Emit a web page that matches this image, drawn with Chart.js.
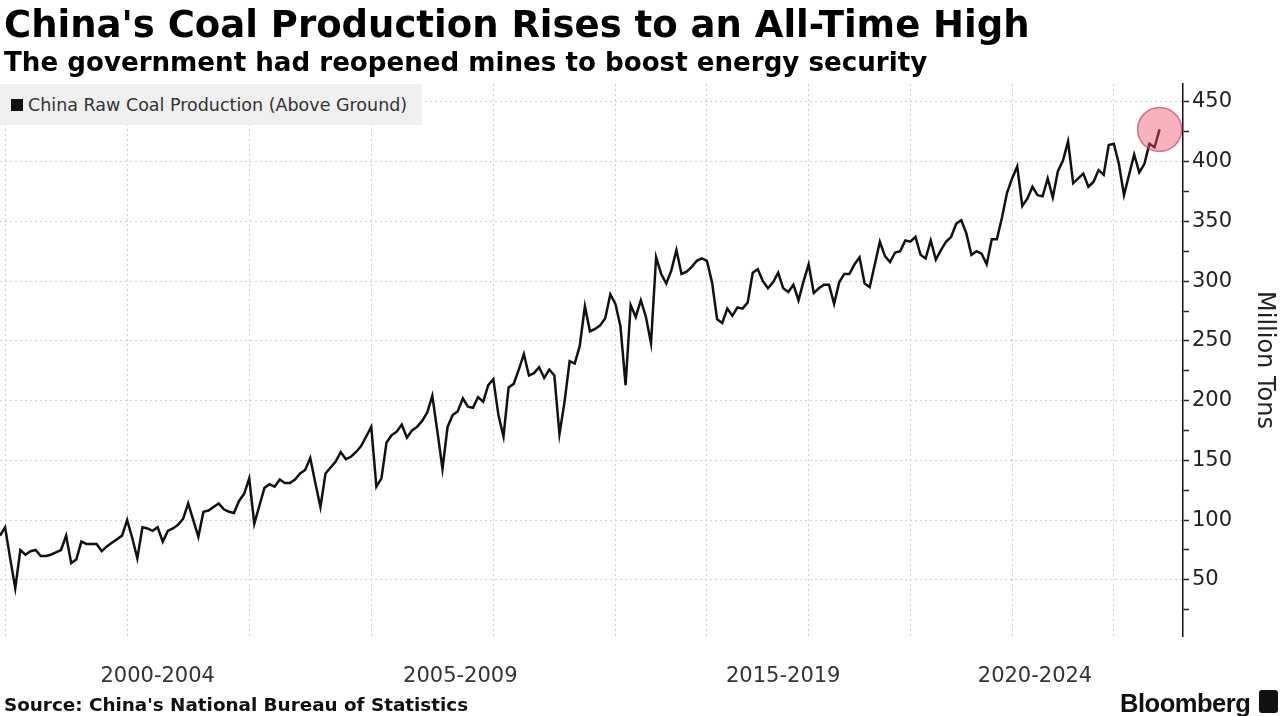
<!DOCTYPE html>
<html>
<head>
<meta charset="utf-8">
<script src="https://cdn.jsdelivr.net/npm/chart.js@4.4.1/dist/chart.umd.min.js"></script>
<style>
  body { margin: 0; background: #fff; width: 1280px; height: 716px; overflow: hidden; position: relative; }
  #chart { position: absolute; left: 0; top: 0; }
  .txt { position: absolute; white-space: nowrap; line-height: 1; color: #000; }
  #title { left: 4px; top: 3px; font: bold 36px "DejaVu Sans", sans-serif; }
  #subtitle { left: 4px; top: 47px; font: bold 26px "DejaVu Sans", sans-serif; }
  #source { left: 4px; top: 694px; font: bold 18px "DejaVu Sans", sans-serif; color: #111; }
  #brand { left: 1120px; top: 689px; font: bold 23px "Liberation Sans", Arial, sans-serif; color: #111; letter-spacing: -0.5px; }
  #logo { position: absolute; left: 1259px; top: 690px; width: 19px; height: 23px; background: #111; border-radius: 3px; }
  #legend { position: absolute; left: 0; top: 84px; width: 422px; height: 41px; background: #efefef;
            display: flex; align-items: center; font: 17.5px "DejaVu Sans", sans-serif; color: #333; }
  #legend span.box { display: inline-block; width: 12px; height: 12px; background: #111; margin: 0 5px 0 11px; }
</style>
</head>
<body>
<canvas id="chart" width="1280" height="716"></canvas>
<div class="txt" id="title">China's Coal Production Rises to an All-Time High</div>
<div class="txt" id="subtitle">The government had reopened mines to boost energy security</div>
<div id="legend"><span class="box"></span><span id="legendText"></span></div>
<div class="txt" id="source">Source: China's National Bureau of Statistics</div>
<div class="txt" id="brand">Bloomberg</div>
<div id="logo"></div>
<script>
const seriesName = 'China Raw Coal Production (Above Ground)'

// monthly output, million tons
const coal = [
    87, 94, 68, 43, 75, 71, 74, 75, 70, 70,
    71, 73, 75, 87, 64, 67, 82, 80, 80, 80,
    74, 78, 81, 84, 87, 100, 85, 68, 94, 93,
    91, 94, 82, 91, 93, 96, 101, 114, 100, 86,
    107, 108, 111, 114, 109, 107, 106, 116, 122, 135,
    97, 112, 127, 130, 128, 134, 131, 131, 134, 139,
    142, 152, 131, 111, 139, 144, 149, 157, 151, 153,
    157, 162, 170, 178, 128, 135, 165, 171, 174, 180,
    169, 175, 178, 183, 190, 204, 174, 143, 178, 188,
    191, 202, 195, 194, 203, 199, 213, 218, 188, 170,
    211, 214, 226, 239, 221, 223, 228, 219, 226, 221,
    172, 199, 233, 231, 246, 279, 258, 260, 263, 269,
    289, 281, 262, 213, 280, 270, 284, 270, 248, 320,
    306, 298, 309, 326, 306, 308, 312, 317, 319, 317,
    299, 268, 265, 277, 271, 278, 277, 282, 307, 310,
    300, 294, 299, 307, 294, 291, 297, 284, 300, 314,
    290, 294, 297, 297, 281, 299, 306, 306, 314, 320,
    298, 295, 314, 333, 321, 316, 324, 325, 334, 333,
    337, 322, 319, 334, 318, 326, 333, 337, 348, 351,
    340, 322, 325, 323, 314, 335, 335, 353, 374, 386,
    396, 363, 369, 379, 372, 371, 386, 370, 392, 401,
    417, 382, 386, 390, 379, 383, 393, 389, 414, 415,
    398, 372, 389, 406, 391, 398, 415, 412, 427
]
const months = coal.map((v, i) => i)

// vertical grid lines (month index) and the period labels under the axis
const gridMonths = [1, 25, 49, 73, 97, 121, 139, 159, 179, 199, 219]
const periodLabels = ['2000-2004', '2005-2009', '2015-2019', '2020-2024']
const periodAt = [31, 90.5, 154, 203.5]

const yTicks = [25, 50, 75, 100, 125, 150, 175, 200, 225, 250, 275, 300, 325, 350, 375, 400, 425, 450]

document.getElementById('legendText').innerText = seriesName

// stretch header/footer text to the widths seen in the original
function fitWidth(id, target) {
    const el = document.getElementById(id)
    const size = parseFloat(getComputedStyle(el).fontSize)
    el.style.fontSize = (size * target / el.offsetWidth) + 'px'
}
fitWidth('title', 1026)
fitWidth('subtitle', 924)
fitWidth('source', 464)
fitWidth('brand', 130)

const ctx = document.getElementById('chart').getContext('2d')
const last = coal.length - 1

const dataChart = new Chart(ctx, {
    type: 'line',
    data: {
        labels: months,
        datasets: [{
            label: seriesName,
            data: coal,
            borderColor: '#111',
            borderWidth: 2.5,
            tension: 0,
            pointRadius: c => c.dataIndex === last ? 22 : 0,
            pointHoverRadius: c => c.dataIndex === last ? 22 : 0,
            pointBackgroundColor: 'rgba(240, 85, 110, 0.45)',
            pointBorderColor: 'rgba(200, 55, 80, 0.65)',
            pointBorderWidth: 1.5,
        }]
    },
    options: {
        responsive: false,
        animation: false,
        devicePixelRatio: 1,
        layout: { autoPadding: false, padding: { top: 84, left: 0, right: 0, bottom: 0 } },
        plugins: {
            legend: { display: false },
            tooltip: { enabled: false }
        },
        scales: {
            x: {
                type: 'linear',
                min: 0,
                max: 232.6,
                afterBuildTicks: s => {
                    s.ticks = gridMonths.concat(periodAt).sort((a, b) => a - b).map(v => ({ value: v }))
                },
                afterFit: s => {
                    s.height = 80
                    s.paddingLeft = 0
                    s.paddingRight = 0
                },
                border: { display: false, dash: [2, 3] },
                grid: {
                    color: c => gridMonths.includes(c.tick.value) ? '#cfcfcf' : 'transparent',
                    drawTicks: false
                },
                ticks: {
                    autoSkip: false,
                    maxRotation: 0,
                    padding: 28,
                    color: '#333',
                    font: { family: 'DejaVu Sans', size: 21 },
                    callback: v => {
                        const k = periodAt.indexOf(v)
                        return k >= 0 ? periodLabels[k] : ''
                    }
                }
            },
            y: {
                position: 'right',
                min: 3,
                max: 465,
                afterBuildTicks: s => { s.ticks = yTicks.map(v => ({ value: v })) },
                afterFit: s => { s.width = 97 },
                border: { display: true, color: '#111', width: 1.5, dash: [2, 3] },
                grid: {
                    color: c => c.tick && c.tick.value % 50 === 0 ? '#cfcfcf' : 'transparent',
                    tickColor: '#222',
                    tickLength: 6,
                    tickWidth: 1.5
                },
                ticks: {
                    padding: 3,
                    color: '#222',
                    font: { family: 'DejaVu Sans', size: 21 },
                    callback: v => v % 50 === 0 ? v : ''
                },
                title: {
                    display: true,
                    text: 'Million Tons',
                    color: '#222',
                    font: { family: 'DejaVu Sans', size: 24 },
                    padding: { top: 1, bottom: 1 }
                }
            }
        }
    }
})
</script>
</body>
</html>
